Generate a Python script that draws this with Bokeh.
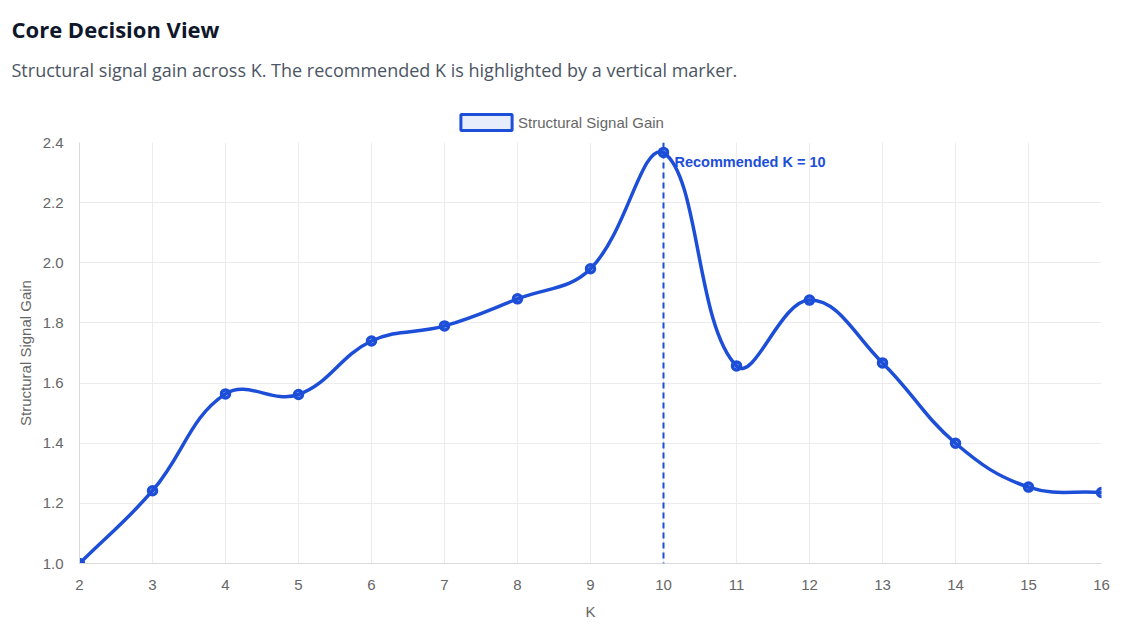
import math
from bokeh.plotting import figure
from bokeh.layouts import column
from bokeh.models import (Range1d, FixedTicker, Span, Label, Legend, LegendItem, Title,
                          ColumnDataSource, CustomJSTickFormatter)
from bokeh.embed import file_html
from bokeh.resources import INLINE

# ---- data ----
k_values = [2, 3, 4, 5, 6, 7, 8, 9, 10, 11, 12, 13, 14, 15, 16]
signal_gain = [1.00, 1.242, 1.564, 1.562, 1.740, 1.790, 1.880, 1.980, 2.367,
               1.657, 1.876, 1.667, 1.400, 1.254, 1.236]
recommended_k = 10
y_ticks = [1.0, 1.2, 1.4, 1.6, 1.8, 2.0, 2.2, 2.4]
series_name = "Structural Signal Gain"
title_text = "Core Decision View"
subtitle_text = "Structural signal gain across K. The recommended K is highlighted by a vertical marker."

BLUE = "#1d4ed8"
GRID = "#ececec"
AXIS = "#d9d9d9"
TICK = "#666666"
FONT = "Liberation Sans"
W = 1114
HEAD_H = 132

X0, X1 = 2, 16
Y0, Y1 = 1.0, 2.4

# ---------------- header (title, subtitle, legend) ----------------
head = figure(width=W, height=HEAD_H, output_backend="svg", toolbar_location=None,
              x_range=Range1d(0, 1), y_range=Range1d(0, 1),
              x_axis_location=None, y_axis_location=None,
              min_border_left=79, min_border_right=13, min_border_bottom=0,
              min_border_top=85, title=None)
head.grid.visible = False
head.outline_line_color = None
head.background_fill_color = "white"
head.border_fill_color = "white"

head.add_layout(Title(text=subtitle_text, text_font="Open Sans", text_font_size="18px",
                      text_font_style="normal", text_color="#4b5563", align="left",
                      offset=-68, standoff=8), "above")
head.add_layout(Title(text=title_text, text_font="Open Sans", text_font_size="22px",
                      text_font_style="bold", text_color="#0f172a", align="left",
                      offset=-68, standoff=16), "above")

dummy = head.quad(left=[float("nan")], right=[float("nan")], top=[float("nan")],
                  bottom=[float("nan")], fill_color=BLUE, fill_alpha=0.1,
                  line_color=BLUE, line_width=3)
legend = Legend(items=[LegendItem(label=series_name, renderers=[dummy])],
                location=(375, 0), orientation="horizontal",
                glyph_width=64, glyph_height=20, label_standoff=0,
                padding=0, margin=0, border_line_color=None, background_fill_alpha=0,
                label_text_font=FONT, label_text_font_size="15px", label_text_color=TICK)
head.add_layout(legend, "center")

# ---------------- main chart ----------------
p = figure(width=W, height=490, output_backend="svg", toolbar_location=None,
           x_range=Range1d(X0, X1), y_range=Range1d(Y0, Y1),
           min_border_left=79, min_border_right=13, min_border_bottom=0,
           min_border_top=10, title=None)
p.outline_line_color = None
p.background_fill_color = "white"
p.border_fill_color = "white"

# spline (Chart.js-style tension 0.4, computed in pixel space)
tension = 0.4
fw = 1022.0 / (X1 - X0)
fh = 422.0 / (Y1 - Y0)
n = len(k_values)
cp_prev, cp_next = [], []
for i in range(n):
    px, py = (k_values[i - 1], signal_gain[i - 1]) if i > 0 else (k_values[i], signal_gain[i])
    cx, cy = k_values[i], signal_gain[i]
    nx, ny = (k_values[i + 1], signal_gain[i + 1]) if i < n - 1 else (k_values[i], signal_gain[i])
    d01 = math.hypot((cx - px) * fw, (cy - py) * fh)
    d12 = math.hypot((nx - cx) * fw, (ny - cy) * fh)
    tot = d01 + d12
    s01 = d01 / tot if tot else 0
    s12 = d12 / tot if tot else 0
    fa, fb = tension * s01, tension * s12
    a = (cx - fa * (nx - px), cy - fa * (ny - py))
    b = (cx + fb * (nx - px), cy + fb * (ny - py))
    clamp = lambda pt: (min(max(pt[0], X0), X1), min(max(pt[1], Y0), Y1))
    cp_prev.append(clamp(a))
    cp_next.append(clamp(b))

bez = ColumnDataSource(dict(
    x0=k_values[:-1], y0=signal_gain[:-1],
    x1=k_values[1:], y1=signal_gain[1:],
    cx0=[c[0] for c in cp_next[:-1]], cy0=[c[1] for c in cp_next[:-1]],
    cx1=[c[0] for c in cp_prev[1:]], cy1=[c[1] for c in cp_prev[1:]],
))
p.bezier(x0="x0", y0="y0", x1="x1", y1="y1", cx0="cx0", cy0="cy0", cx1="cx1", cy1="cy1",
         source=bez, line_color=BLUE, line_width=3.5, line_cap="round")

p.scatter(k_values, signal_gain, size=8, marker="circle", fill_color=BLUE, fill_alpha=0.1,
          line_color=BLUE, line_width=3.5)

p.add_layout(Span(location=recommended_k, dimension="height", line_color=BLUE,
                  line_width=2, line_dash="6 4"))
p.add_layout(Label(x=recommended_k, y=Y1, x_offset=11, y_offset=-19,
                   text=f"Recommended K = {recommended_k}", text_baseline="middle",
                   text_font=FONT, text_font_style="bold", text_font_size="14.5px",
                   text_color=BLUE))

p.xaxis.ticker = FixedTicker(ticks=k_values)
p.yaxis.ticker = FixedTicker(ticks=y_ticks)
p.yaxis.formatter = CustomJSTickFormatter(code="return tick.toFixed(1);")
for ax in (p.xaxis[0], p.yaxis[0]):
    ax.major_tick_line_color = None
    ax.minor_tick_line_color = None
    ax.axis_line_color = AXIS
    ax.major_label_text_color = TICK
    ax.major_label_text_font = FONT
    ax.major_label_text_font_size = "15px"
    ax.axis_label_text_color = TICK
    ax.axis_label_text_font = FONT
    ax.axis_label_text_font_size = "15px"
    ax.axis_label_text_font_style = "normal"
p.xaxis.axis_label = "K"
p.yaxis.axis_label = series_name
p.xaxis.major_label_standoff = 10
p.yaxis.major_label_standoff = 10
p.xaxis.axis_label_standoff = 10
p.yaxis.axis_label_standoff = 6
p.xgrid.ticker = FixedTicker(ticks=k_values)
p.ygrid.ticker = FixedTicker(ticks=y_ticks)
p.grid.grid_line_color = GRID

layout = column(head, p, spacing=0)
open("out.html", "w").write(file_html(layout, INLINE))
